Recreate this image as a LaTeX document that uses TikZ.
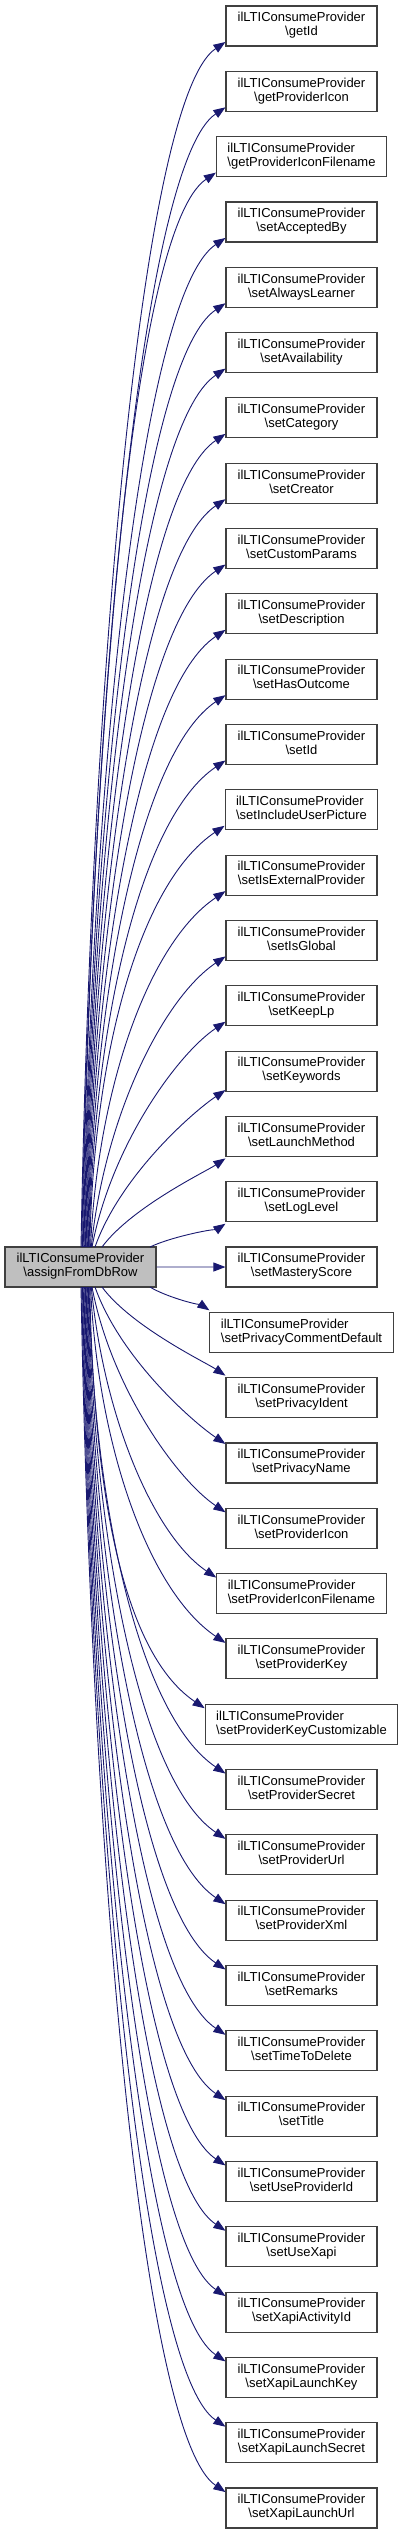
\documentclass[tikz,border=0pt]{standalone}
\usepackage{fontspec}
\setmainfont{Liberation Sans}
\usetikzlibrary{arrows.meta,calc}
\definecolor{edgeblue}{HTML}{191970}
\definecolor{boxline}{HTML}{404040}
\definecolor{srcfill}{HTML}{BFBFBF}
\newcommand\fnlabel[1]{\begin{tabular}{@{}l@{}}ilLTIConsumeProvider\\\multicolumn{1}{@{}c@{}}{\textbackslash #1}\end{tabular}}
\begin{document}
\begin{tikzpicture}[x=1pt,y=-1pt,
 fnbox/.style={draw=boxline, line width=1.1pt, fill=white, minimum width=151pt, minimum height=40pt, inner xsep=11pt, inner ysep=0pt, font=\fontsize{13}{14}\selectfont},
 srcbox/.style={fnbox, fill=srcfill},
 edge/.style={draw=edgeblue, line width=0.9pt, -{Triangle[length=12pt,width=9pt]}}]
\useasboundingbox (0,0) rectangle (404,2535);
\node[srcbox] (src) at (80.5,1267) {\fnlabel{assignFromDbRow}};
\foreach \nm [count=\i from 0] in {getId,getProviderIcon,getProviderIconFilename,setAcceptedBy,setAlwaysLearner,setAvailability,setCategory,setCreator,setCustomParams,setDescription,setHasOutcome,setId,setIncludeUserPicture,setIsExternalProvider,setIsGlobal,setKeepLp,setKeywords,setLaunchMethod,setLogLevel,setMasteryScore,setPrivacyCommentDefault,setPrivacyIdent,setPrivacyName,setProviderIcon,setProviderIconFilename,setProviderKey,setProviderKeyCustomizable,setProviderSecret,setProviderUrl,setProviderXml,setRemarks,setTimeToDelete,setTitle,setUseProviderId,setUseXapi,setXapiActivityId,setXapiLaunchKey,setXapiLaunchSecret,setXapiLaunchUrl}
  \node[fnbox] (n\i) at (301.5,{26+65.316*\i}) {\fnlabel{\nm}};
\foreach \i in {0,...,38}{
 \ifnum\i=19
   \draw[edge] (src.east) -- (n19.west);
 \else
   \ifnum\i<19
     \pgfmathtruncatemacro\eN{18-\i}
     \def\eSgn{-1}
     \def\eYs{1247}
   \else
     \pgfmathtruncatemacro\eN{\i-20}
     \def\eSgn{1}
     \def\eYs{1287}
   \fi
   \pgfmathsetmacro\eSx{\eN==0 ? 150 : (\eN==1 ? 102 : (\eN==2 ? 95 : 92-(\eN-3)*11/15))}
   \pgfmathsetmacro\eOff{\eN<2 ? 22 : (\eN==2 ? 19 : 16)}
   \pgfmathsetmacro\eTy{26+65.316*\i}
   \pgfmathsetmacro\eEy{\eTy-\eSgn*\eOff}
   \pgfmathsetmacro\eL{abs(\eEy-\eYs)}
   \pgfmathsetmacro\eF{min(1,\eL/400)}
   \pgfmathsetmacro\eCy{\eYs+\eSgn*0.45*\eL}
   \pgfmathsetmacro\eDy{\eEy-\eSgn*58*\eF}
   \draw[edge] let \p1=(n\i.west) in
     (\eSx,\eYs) .. controls ({\eSx+0.3*(1-\eF)*(\x1/1pt-\eSx)+0.008*\eL},\eCy) and ({\x1/1pt-86*\eF},\eDy) .. ({\x1/1pt},\eEy);
 \fi
}
\end{tikzpicture}
\end{document}
